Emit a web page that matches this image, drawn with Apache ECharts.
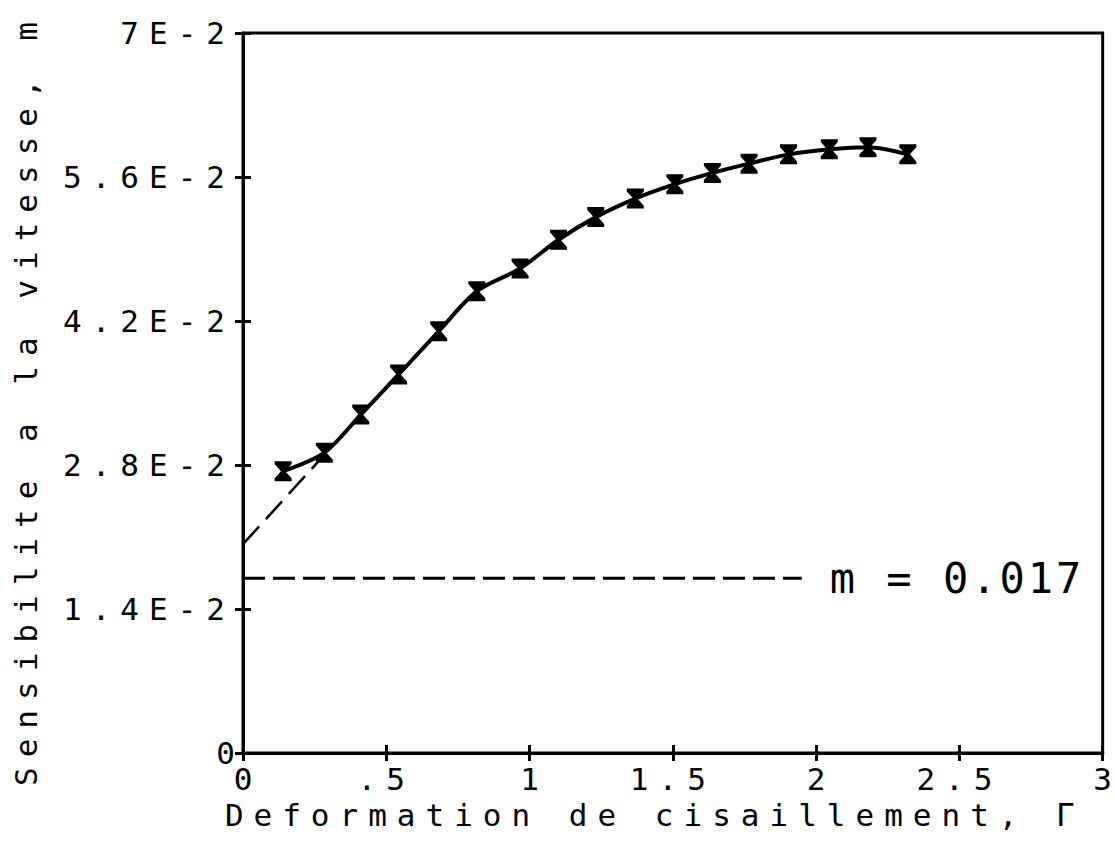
<!DOCTYPE html>
<html>
<head>
<meta charset="utf-8">
<script src="https://cdn.jsdelivr.net/npm/echarts@6/dist/echarts.min.js"></script>
<style>
  html, body { margin: 0; padding: 0; background: #fff; }
  #chart { width: 1115px; height: 849px; }
</style>
</head>
<body>
<div id="chart"></div>
<script>
// Shear strain (Gamma) and strain-rate sensitivity m for each measured step
const gammaValues = [0.140, 0.284, 0.411, 0.543, 0.683, 0.816, 0.967, 1.101, 1.231,
                     1.369, 1.507, 1.638, 1.766, 1.904, 2.046, 2.181, 2.320];
const mValues = [0.0274, 0.0292, 0.0329, 0.0368, 0.0410, 0.0449, 0.0471, 0.0499, 0.0521,
                 0.0539, 0.0553, 0.0564, 0.0573, 0.0582, 0.0587, 0.0589, 0.0582];

// Extrapolation of the curve back to zero strain
const tangentGamma = [0, 0.265];
const tangentM = [0.0203, 0.0284];

// Reference level of m
const limitGamma = [0, 1.95];
const limitM = 0.017;

// Axis tick labels
const xTickLabels = ['0', '.5', '1', '1.5', '2', '2.5', '3'];
const yTickLabels = ['0', '1.4E-2', '2.8E-2', '4.2E-2', '5.6E-2', '7E-2'];

const X_STEP = 0.5;
const Y_STEP = 0.014;
const FONT = "'DejaVu Sans Mono', monospace";
const INK = '#000';

const chart = echarts.init(document.getElementById('chart'), null, { renderer: 'svg' });

// Plotter-style wide letter spacing on multi-character texts
chart.on('finished', function () {
  document.querySelectorAll('#chart svg text').forEach(function (t) {
    const txt = t.textContent;
    if (txt.length < 2) return;
    const isLevelLabel = txt.indexOf('m =') === 0;
    t.setAttribute('letter-spacing', isLevelLabel ? '3' : '10');
  });
});

const tickStyle = { color: INK, width: 3 };
const labelFont = { color: INK, fontFamily: FONT, fontSize: 31 };

const hourglass = 'path://M0,0 L12,0 L12,2 L7.5,7 L12,12 L12,14 L0,14 L0,12 L4.5,7 L0,2 Z';

chart.setOption({
  animation: false,
  backgroundColor: '#fff',
  grid: {
    left: 243, right: 8, top: 33, bottom: 96,
    show: true, borderColor: INK, borderWidth: 3, backgroundColor: 'transparent'
  },
  xAxis: [
    {
      type: 'value', min: 0, max: 3, interval: X_STEP, position: 'bottom',
      axisLine: { show: true, onZero: false, lineStyle: tickStyle },
      axisTick: { show: true, inside: false, length: 8, lineStyle: tickStyle },
      axisLabel: Object.assign({ margin: 10, formatter: v => xTickLabels[Math.round(v / X_STEP)] }, labelFont),
      splitLine: { show: false },
      name: 'Deformation de cisaillement, \u0393',
      nameLocation: 'middle', nameGap: 46,
      nameTextStyle: Object.assign({ padding: [0, 36, 0, 0] }, labelFont)
    },
    {
      type: 'value', min: 0, max: 3, interval: X_STEP, position: 'bottom',
      axisLine: { show: false, onZero: false },
      axisTick: { show: true, inside: true, length: 8, lineStyle: tickStyle },
      axisLabel: { show: false },
      splitLine: { show: false }
    }
  ],
  yAxis: [
    {
      type: 'value', min: 0, max: 0.07, interval: Y_STEP, position: 'left',
      axisLine: { show: true, onZero: false, lineStyle: tickStyle },
      axisTick: { show: true, inside: false, length: 8, lineStyle: tickStyle },
      axisLabel: Object.assign({ margin: 8, formatter: v => yTickLabels[Math.round(v / Y_STEP)] }, labelFont),
      splitLine: { show: false },
      name: 'Sensibilite a la vitesse, m',
      nameLocation: 'middle', nameGap: 202,
      nameTextStyle: Object.assign({ padding: [0, 12, 0, 0] }, labelFont)
    },
    {
      type: 'value', min: 0, max: 0.07, interval: Y_STEP, position: 'left',
      axisLine: { show: false, onZero: false },
      axisTick: { show: true, inside: true, length: 8, lineStyle: tickStyle },
      axisLabel: { show: false },
      splitLine: { show: false }
    }
  ],
  series: [
    {
      type: 'line',
      data: gammaValues.map((g, i) => [g, mValues[i]]),
      smooth: 0.3,
      symbol: hourglass,
      symbolSize: [17, 20],
      showAllSymbol: true,
      itemStyle: { color: INK, borderWidth: 0 },
      lineStyle: { color: INK, width: 4 },
      z: 3
    },
    {
      type: 'line',
      data: tangentGamma.map((g, i) => [g, tangentM[i]]),
      symbol: 'none',
      lineStyle: { color: INK, width: 2.5, type: [24, 10] }
    },
    {
      type: 'line',
      data: limitGamma.map(g => [g, limitM]),
      symbol: 'none',
      lineStyle: { color: INK, width: 3, type: [22, 8] },
      endLabel: {
        show: true,
        distance: 28,
        color: INK,
        fontFamily: FONT,
        fontSize: 42,
        formatter: () => 'm = ' + limitM.toFixed(3)
      }
    }
  ]
});
</script>
</body>
</html>
